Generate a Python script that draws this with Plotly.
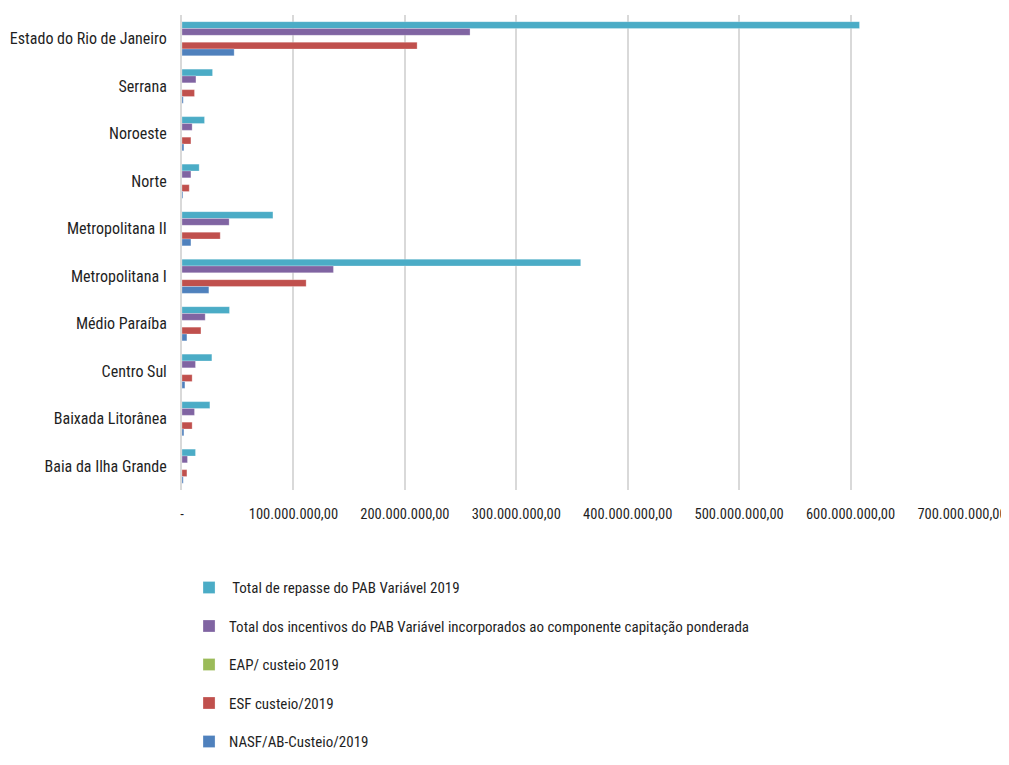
import plotly.graph_objects as go

regions = ["Estado do Rio de Janeiro", "Serrana", "Noroeste", "Norte", "Metropolitana II",
           "Metropolitana I", "Médio Paraíba", "Centro Sul", "Baixada Litorânea", "Baia da Ilha Grande"]

total_repasse = [608.0e6, 27.4e6, 20.2e6, 15.4e6, 81.6e6, 357.8e6, 42.6e6, 26.8e6, 25.0e6, 12.1e6]
total_incentivos = [258.5e6, 12.5e6, 9.1e6, 8.0e6, 42.3e6, 135.9e6, 20.8e6, 12.1e6, 11.2e6, 4.9e6]
eap_custeio = [0, 0, 0, 0, 0, 0, 0, 0, 0, 0]
esf_custeio = [211.0e6, 11.2e6, 8.0e6, 6.5e6, 34.3e6, 111.4e6, 17.0e6, 9.1e6, 9.1e6, 4.4e6]
nasf_custeio = [46.8e6, 1.1e6, 1.7e6, 0.8e6, 8.0e6, 24.1e6, 4.4e6, 2.6e6, 1.7e6, 1.1e6]

series_names = [" Total de repasse do PAB Variável 2019",
                "Total dos incentivos do PAB Variável incorporados ao componente capitação ponderada",
                "EAP/ custeio 2019",
                "ESF custeio/2019",
                "NASF/AB-Custeio/2019"]
series_values = [total_repasse, total_incentivos, eap_custeio, esf_custeio, nasf_custeio]
series_colors = ["#4BACC6", "#8064A2", "#9BBB59", "#C0504D", "#4F81BD"]

tick_vals = [0, 100e6, 200e6, 300e6, 400e6, 500e6, 600e6, 700e6]
tick_text = ["-", "100.000.000,00", "200.000.000,00", "300.000.000,00", "400.000.000,00",
             "500.000.000,00", "600.000.000,00", "700.000.000,00"]

FONT = "Liberation Sans Narrow, Roboto Condensed, DejaVu Sans Condensed, Arial Narrow, sans-serif"

fig = go.Figure()
for i, (name, vals, col) in enumerate(zip(series_names, series_values, series_colors)):
    fig.add_trace(go.Bar(
        y=regions, x=vals, name=name, orientation="h",
        marker=dict(color=col, line=dict(color="rgba(255,255,255,0.5)", width=0.5)),
        legendgroup=f"g{i}",
    ))

# the page body has an 8px default margin, so the figure is sized to fit
# the 1009x765 window without a vertical scrollbar
fig.update_layout(
    barmode="group",
    bargap=0.28,
    bargroupgap=0,
    width=1001, height=749,
    margin=dict(l=174, r=47, t=7, b=267, autoexpand=False),
    paper_bgcolor="white", plot_bgcolor="white",
    font=dict(family=FONT, size=16, color="#1F1F1F"),
    showlegend=True,
    legend=dict(
        orientation="v", x=0.009, xanchor="left",
        yref="container", y=0.248, yanchor="top",
        traceorder="grouped", tracegroupgap=16,
        font=dict(family=FONT, size=15, color="#1F1F1F"),
        itemwidth=30,
    ),
    xaxis=dict(
        range=[0, 700e6], tickvals=tick_vals, ticktext=tick_text,
        showgrid=True, gridcolor="#D9D9D9", gridwidth=2,
        zeroline=False, showline=False, ticks="",
        ticklabelstandoff=13, automargin=False,
        tickfont=dict(family=FONT, size=14.5, color="#1F1F1F"),
    ),
    yaxis=dict(
        autorange="reversed", showgrid=False, zeroline=False,
        showline=True, linecolor="#D9D9D9", linewidth=2,
        ticks="", ticklabelstandoff=10, automargin=False,
        tickfont=dict(family=FONT, size=16, color="#1F1F1F"),
    ),
)

fig.write_html("out.html")
